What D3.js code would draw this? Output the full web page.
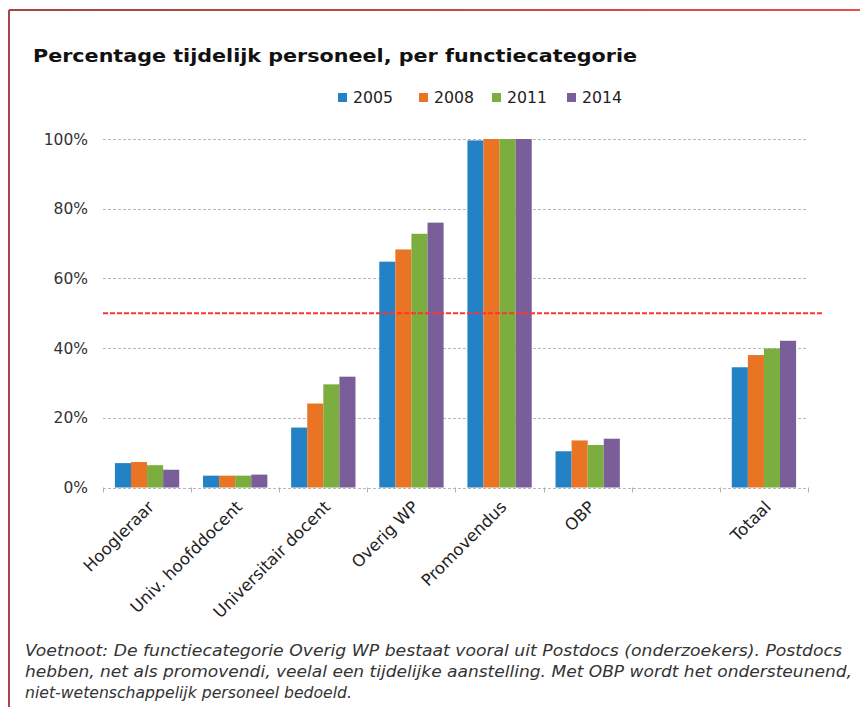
<!DOCTYPE html>
<html>
<head>
<meta charset="utf-8">
<script src="https://cdn.jsdelivr.net/npm/d3@7"></script>
<style>
  body { margin: 0; background: #fff; }
  svg { display: block; }
</style>
</head>
<body>
<svg id="chart" width="860" height="707"></svg>
<script>
// data (percentages)
var categories = ["Hoogleraar", "Univ. hoofddocent", "Universitair docent", "Overig WP", "Promovendus", "OBP", "", "Totaal"];
var years = ["2005", "2008", "2011", "2014"];
var v2005 = [7.0, 3.4, 17.2, 64.8, 99.6, 10.4, null, 34.5];
var v2008 = [7.3, 3.4, 24.1, 68.3, 100, 13.5, null, 38.0];
var v2011 = [6.4, 3.4, 29.6, 72.8, 100, 12.2, null, 39.9];
var v2014 = [5.1, 3.7, 31.8, 76.0, 100, 14.0, null, 42.1];
var yTicks = [0, 20, 40, 60, 80, 100];
var refLine = 50;
var colors = ["#2381c5", "#e87424", "#7bae3e", "#7a5e99"];

var title = "Percentage tijdelijk  personeel, per functiecategorie";
var footnote = [
    "Voetnoot: De functiecategorie Overig WP bestaat vooral uit Postdocs (onderzoekers). Postdocs",
    "hebben, net als promovendi, veelal een tijdelijke aanstelling. Met OBP wordt het ondersteunend,",
    "niet-wetenschappelijk personeel bedoeld."
];

function drawChart() {
    var series = [v2005, v2008, v2011, v2014];
    var table = categories.map(function(c, i) {
        return { cat: c, values: years.map(function(yr, j) { return { year: yr, value: series[j][i] }; }) };
    });

    var svg = d3.select("#chart");
    var font = "'DejaVu Sans', Verdana, sans-serif";

    // frame
    var grad = svg.append("defs").append("linearGradient").attr("id", "topline");
    grad.append("stop").attr("offset", "0%").attr("stop-color", "#a04545");
    grad.append("stop").attr("offset", "100%").attr("stop-color", "#e84c4c");
    svg.append("rect").attr("x", 9).attr("y", 9).attr("width", 851).attr("height", 2).attr("fill", "url(#topline)");
    svg.append("rect").attr("x", 8).attr("y", 10).attr("width", 2).attr("height", 697).attr("fill", "#a54848");

    var plotLeft = 103, plotRight = 808, plotTop = 139, plotBottom = 487.5;

    var x = d3.scaleBand().domain(categories).range([plotLeft, plotRight]).paddingInner(0.27).paddingOuter(0.135);
    var x1 = d3.scaleBand().domain(years).range([0, x.bandwidth()]);
    var y = d3.scaleLinear().domain([0, 100]).range([plotBottom, plotTop]);

    // title
    svg.append("text")
        .attr("x", 33).attr("y", 62)
        .attr("textLength", 604).attr("lengthAdjust", "spacingAndGlyphs")
        .style("font", "bold 18px " + font)
        .attr("fill", "#111")
        .text(title);

    // legend
    var legendX = [338, 419, 492, 567];
    var lg = svg.selectAll(".legend").data(years).enter().append("g")
        .attr("class", "legend")
        .attr("transform", function(d, i) { return "translate(" + legendX[i] + ",93)"; });
    lg.append("rect").attr("width", 9).attr("height", 9).attr("fill", function(d, i) { return colors[i]; });
    lg.append("text")
        .attr("x", 15).attr("y", 9.5)
        .attr("textLength", 40).attr("lengthAdjust", "spacingAndGlyphs")
        .style("font", "15px " + font)
        .attr("fill", "#222")
        .text(function(d) { return d; });

    // grid lines
    svg.append("g").selectAll("line").data(yTicks).enter().append("line")
        .attr("x1", plotLeft).attr("x2", plotRight)
        .attr("y1", function(d) { return Math.round(y(d)) + 0.5; })
        .attr("y2", function(d) { return Math.round(y(d)) + 0.5; })
        .attr("stroke", "#b8b8b8")
        .attr("stroke-dasharray", "3,2");

    // y axis labels
    svg.append("g").selectAll("text").data(yTicks).enter().append("text")
        .attr("x", 88).attr("y", function(d) { return y(d) + 5.5; })
        .attr("text-anchor", "end")
        .style("font", "15.5px " + font)
        .attr("fill", "#333")
        .text(function(d) { return d + "%"; });

    // category tick marks
    var tickX = categories.map(function(c) { return x(c) - x.step() * x.paddingInner() / 2; });
    tickX.push(plotRight);
    svg.append("g").selectAll("line").data(tickX).enter().append("line")
        .attr("x1", function(d) { return Math.round(d) + 0.5; })
        .attr("x2", function(d) { return Math.round(d) + 0.5; })
        .attr("y1", plotBottom).attr("y2", plotBottom + 5)
        .attr("stroke", "#b0b0b0");

    // bars
    var grp = svg.selectAll(".cat").data(table).enter().append("g")
        .attr("class", "cat")
        .attr("transform", function(d) { return "translate(" + x(d.cat) + ",0)"; });
    grp.selectAll("rect")
        .data(function(d) { return d.values.filter(function(v) { return v.value != null; }); })
        .enter().append("rect")
        .attr("x", function(d) { return x1(d.year); })
        .attr("width", x1.bandwidth())
        .attr("y", function(d) { return y(d.value); })
        .attr("height", function(d) { return plotBottom - y(d.value); })
        .attr("fill", function(d) { return colors[years.indexOf(d.year)]; });

    // 50% reference line
    svg.append("line")
        .attr("x1", plotLeft).attr("x2", 822)
        .attr("y1", y(refLine)).attr("y2", y(refLine))
        .attr("stroke", "#ff3333")
        .attr("stroke-width", 2)
        .attr("stroke-dasharray", "5,2");

    // x labels
    svg.append("g").selectAll("text").data(categories.filter(function(c) { return c !== ""; })).enter().append("text")
        .attr("transform", function(d) {
            return "translate(" + (x(d) + x.bandwidth() / 2 + 8) + "," + 508 + ") rotate(-45)";
        })
        .attr("text-anchor", "end")
        .style("font", "16.5px " + font)
        .attr("fill", "#222")
        .text(function(d) { return d; });

    // footnote
    var fnLen = [817, 827, 327];
    svg.append("g").selectAll("text").data(footnote).enter().append("text")
        .attr("x", 25)
        .attr("y", function(d, i) { return 656 + i * 21; })
        .attr("textLength", function(d, i) { return fnLen[i]; })
        .attr("lengthAdjust", "spacingAndGlyphs")
        .style("font", "italic 15px " + font)
        .attr("fill", "#333")
        .text(function(d) { return d; });
}

drawChart();
</script>
</body>
</html>
